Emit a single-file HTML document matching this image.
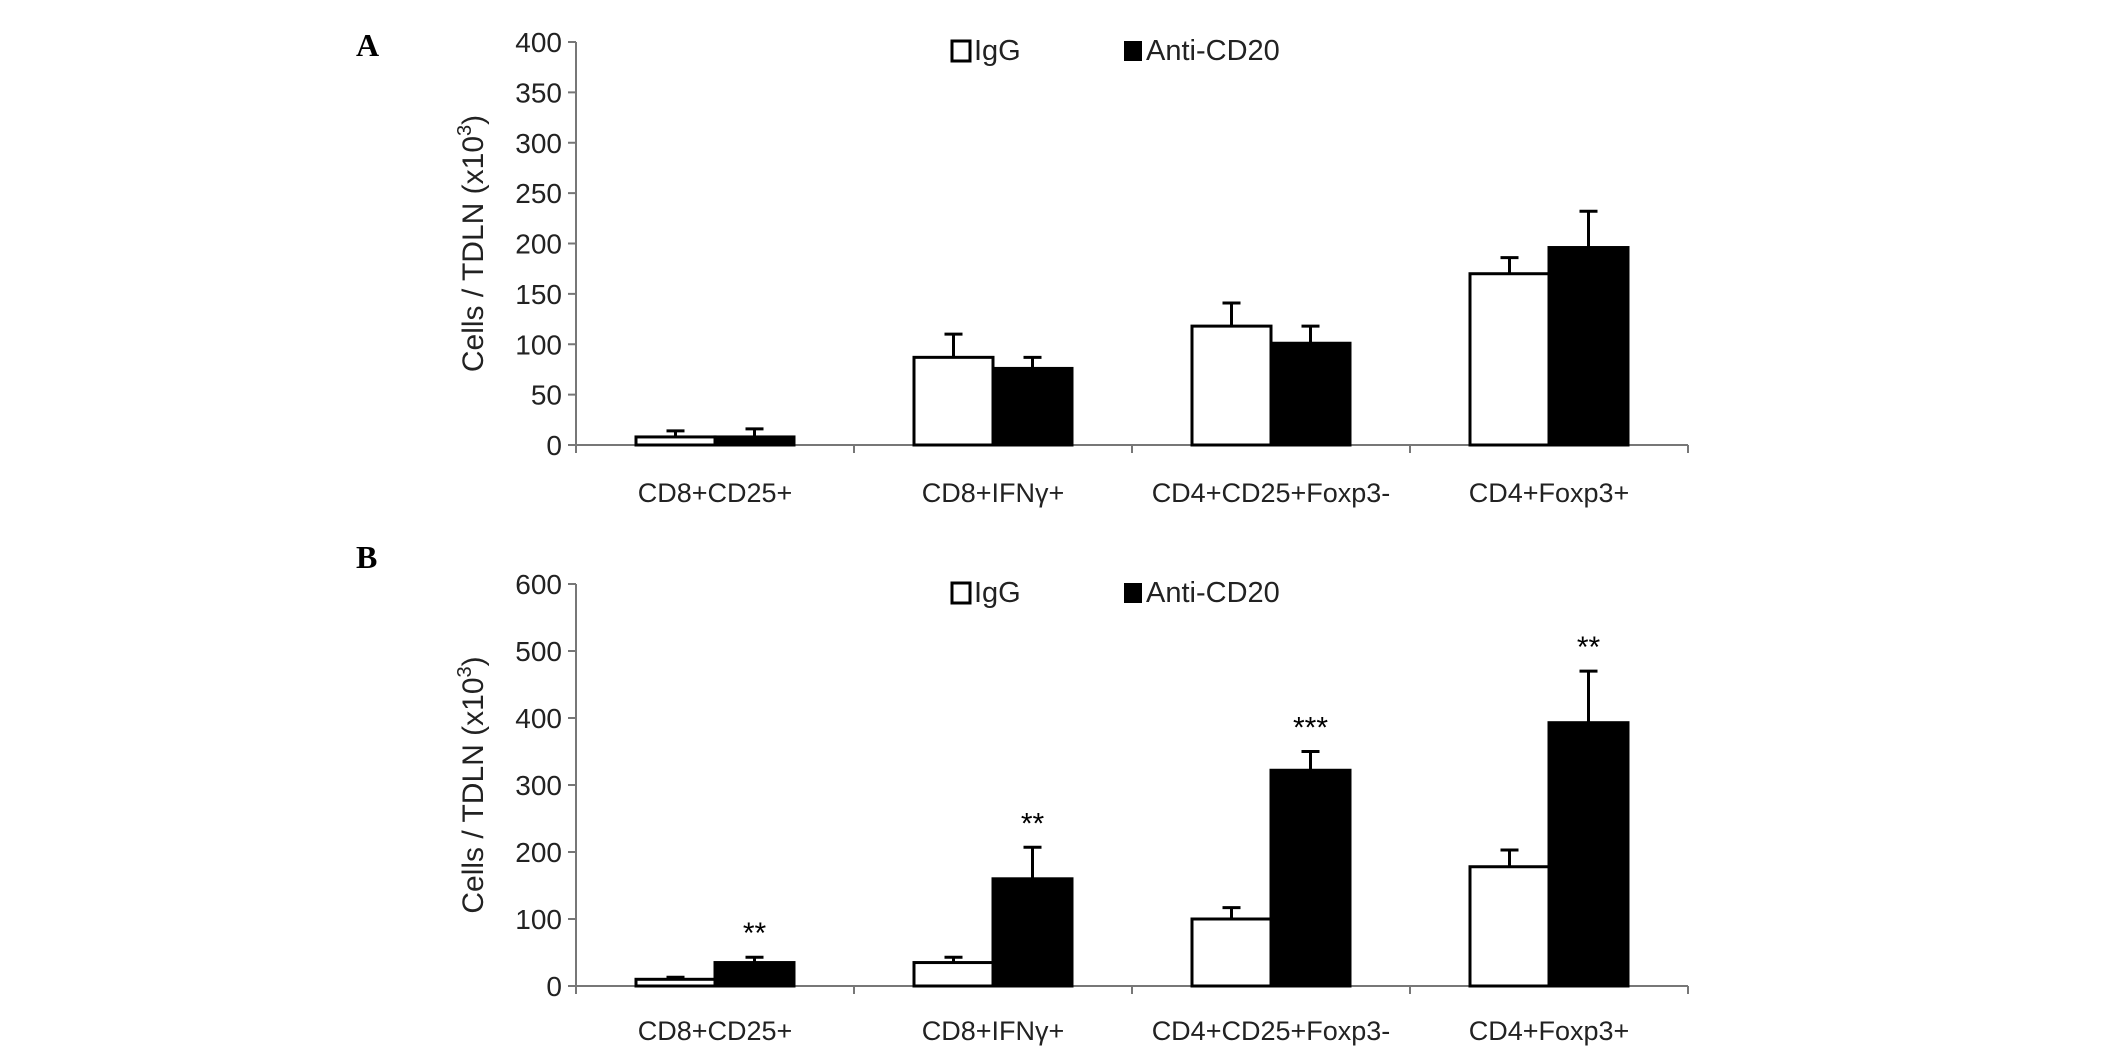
<!DOCTYPE html>
<html><head><meta charset="utf-8"><style>
body{margin:0;background:#fff;}
svg{display:block;font-family:"Liberation Sans",Arial,sans-serif;}
</style></head><body>
<svg id="chart" width="2126" height="1053" viewBox="0 0 2126 1053"></svg>
<script>
const categories=["CD8+CD25+","CD8+IFNγ+","CD4+CD25+Foxp3-","CD4+Foxp3+"];
const aIgG=[8,87,118,170];
const aIgGErr=[14,110,141,186];
const aAnti=[8,76,101,196];
const aAntiErr=[16,87,118,232];
const aTicks=[0,50,100,150,200,250,300,350,400];
const bIgG=[10,35,100,178];
const bIgGErr=[13,43,117,203];
const bAnti=[35,160,322,393];
const bAntiErr=[43,207,350,470];
const bTicks=[0,100,200,300,400,500,600];
const bStars=["**","**","***","**"];

const NS="http://www.w3.org/2000/svg";
const svg=document.getElementById('chart');
function mk(tag,attrs,parent){const e=document.createElementNS(NS,tag);for(const k in attrs)e.setAttribute(k,attrs[k]);(parent||svg).appendChild(e);return e;}

function panel(p){
  const g=mk('g',{});
  
  
  const x0=576,x1=1688,max=p.ticks[p.ticks.length-1];
  const y=v=>p.y0-(v/max)*(p.y0-p.yTop);
  const band=(x1-x0)/categories.length, bw=79;
  const ax=mk('line',{x1:x0,y1:p.yTop,x2:x0,y2:p.y0,stroke:'#777','stroke-width':2},g);
  
  const bx=mk('line',{x1:x0,y1:p.y0,x2:x1,y2:p.y0,stroke:'#777','stroke-width':2},g);
  
  p.ticks.forEach(t=>{
    mk('line',{x1:x0-8,y1:y(t),x2:x0,y2:y(t),stroke:'#777','stroke-width':2},g);
    const tx=mk('text',{x:x0-14,y:y(t)+10,'text-anchor':'end','font-size':28,fill:'#222'},g);
    tx.textContent=t;
    
  });
  for(let i=0;i<=categories.length;i++){mk('line',{x1:x0+i*band,y1:p.y0,x2:x0+i*band,y2:p.y0+8,stroke:'#777','stroke-width':2},g);}
  const yl=mk('text',{x:0,y:0,'text-anchor':'middle','font-size':30,fill:'#222',transform:`translate(483,${(p.y0+p.yTop)/2}) rotate(-90)`},g);
  yl.innerHTML='Cells / TDLN (x10<tspan dy="-12" font-size="20">3</tspan><tspan dy="12">)</tspan>';
  
  categories.forEach((c,i)=>{
    const cx=x0+band*(i+0.5);
    [[p.igg[i],p.iggE[i],'#fff',cx-bw,'igg'],[p.anti[i],p.antiE[i],'#000',cx,'anti']].forEach(([v,e,f,lx,s])=>{
      const ex=lx+bw/2;
      mk('line',{x1:ex,y1:y(v),x2:ex,y2:y(e),stroke:'#000','stroke-width':3},g);
      mk('line',{x1:ex-9,y1:y(e),x2:ex+9,y2:y(e),stroke:'#000','stroke-width':3},g);
      const r=mk('rect',{x:lx,y:y(v),width:bw,height:p.y0-y(v),fill:f,stroke:'#000','stroke-width':3},g);
      
    });
    const lb=mk('text',{x:cx,y:p.labelY,'text-anchor':'middle','font-size':27,fill:'#222'},g);
    lb.textContent=c;
    
    if(p.stars){const st=mk('text',{x:cx+bw/2,y:y(p.anti[i]>0?p.antiE[i]:0)-14,'text-anchor':'middle','font-size':30,fill:'#000'},g);
      st.textContent=p.stars[i];
      }
  });
  const lg=mk('g',{},g);
  
  mk('rect',{x:952,y:p.legY-19,width:18,height:20,fill:'#fff',stroke:'#000','stroke-width':3},lg);
  const t1=mk('text',{x:974,y:p.legY,'font-size':29,fill:'#222'},lg);t1.textContent='IgG';
  
  mk('rect',{x:1124,y:p.legY-19,width:18,height:20,fill:'#000'},lg);
  const t2=mk('text',{x:1146,y:p.legY,'font-size':29,fill:'#222'},lg);t2.textContent='Anti-CD20';
  
  const pl=mk('text',{x:356,y:p.letterY,'font-size':32,'font-weight':'bold','font-family':'Liberation Serif,serif',fill:'#000'},g);
  pl.textContent=p.id;
  
}
panel({id:'A',y0:445,yTop:42,ticks:aTicks,igg:aIgG,iggE:aIgGErr,anti:aAnti,antiE:aAntiErr,labelY:502,legY:60,letterY:56});
panel({id:'B',y0:986,yTop:584,ticks:bTicks,igg:bIgG,iggE:bIgGErr,anti:bAnti,antiE:bAntiErr,labelY:1040,legY:602,letterY:568,stars:bStars});
</script>
</body></html>
